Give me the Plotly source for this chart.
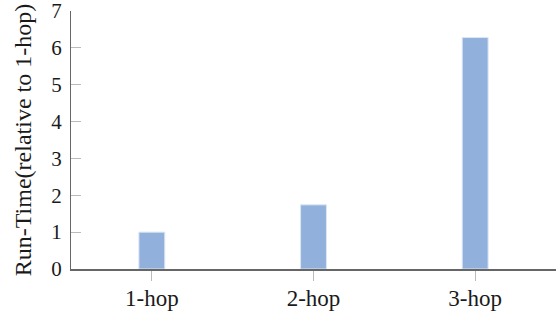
import plotly.graph_objects as go

categories = ["1-hop", "2-hop", "3-hop"]
run_time = [1.0, 1.74, 6.28]
y_ticks = [0, 1, 2, 3, 4, 5, 6, 7]

FONT = "Liberation Serif"

fig = go.Figure(
    go.Bar(
        x=categories,
        y=run_time,
        width=0.16,
        marker=dict(color="#91b1dc", line=dict(color="#dbe5f3", width=1)),
    )
)

fig.update_layout(
    width=556,
    height=318,
    margin=dict(l=71, r=0, t=11, b=49, autoexpand=False),
    plot_bgcolor="white",
    paper_bgcolor="white",
    font=dict(family=FONT, size=21, color="#1a1a1a"),
    showlegend=False,
)

fig.update_xaxes(
    range=[-0.5, 2.5],
    showline=True,
    linecolor="#666666",
    linewidth=2,
    ticks="outside",
    ticklen=10,
    tickcolor="#bbbbbb",
    tickwidth=1,
    showgrid=False,
    zeroline=False,
    tickfont=dict(family=FONT, size=23),
    ticklabelstandoff=-3,
)

fig.update_yaxes(
    range=[0, 7],
    tickvals=y_ticks,
    showline=True,
    linecolor="#666666",
    linewidth=1,
    ticks="inside",
    ticklen=10,
    tickcolor="#bbbbbb",
    tickwidth=1,
    showgrid=False,
    zeroline=False,
    tickfont=dict(family=FONT, size=21),
    ticklabelstandoff=4,
    ticklabeloverflow="allow",
    title=dict(text="Run-Time(relative to 1-hop)", font=dict(family=FONT, size=24), standoff=12),
)

fig.write_html(
    "out.html",
    config={"displayModeBar": False},
    post_script="document.body.style.margin='0';document.body.style.overflow='hidden';",
)
